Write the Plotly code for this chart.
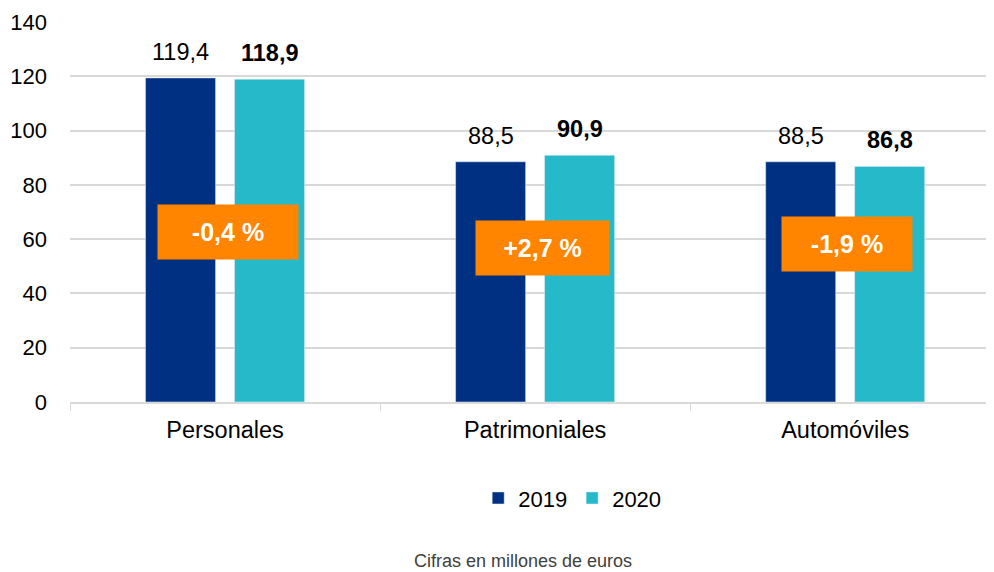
import plotly.graph_objects as go

categorias = ["Personales", "Patrimoniales", "Automóviles"]
v2019 = [119.4, 88.5, 88.5]
v2020 = [118.9, 90.9, 86.8]
variacion = ["-0,4 %", "+2,7 %", "-1,9 %"]
pos_var = [62.6, 56.7, 58.2]   # altura de las cajas naranjas

def fmt(v):
    return f"{v:.1f}".replace(".", ",")

fig = go.Figure()
fig.add_trace(go.Bar(x=categorias, y=v2019, name="2019", marker_color="#003082"))
fig.add_trace(go.Bar(x=categorias, y=v2020, name="2020", marker_color="#25B9C9"))

# etiquetas de valor sobre las barras
for cat, a, b in zip(categorias, v2019, v2020):
    fig.add_annotation(x=cat, y=a, text=fmt(a), showarrow=False, xshift=-44.5,
                       yshift=26, yanchor="middle", font=dict(size=23.5, color="#000000"))
    fig.add_annotation(x=cat, y=b, text="<b>" + fmt(b) + "</b>", showarrow=False, xshift=44.5,
                       yshift=26, yanchor="middle", font=dict(size=23.5, color="#000000"))

# cajas de variación
offsets = [0.011, 0.023, 0.005]
anchos = [132, 125, 122]
for i, (t, yv) in enumerate(zip(variacion, pos_var)):
    fig.add_annotation(
        x=i + offsets[i], y=yv, xref="x", yref="y", text="<b>" + t + "</b>",
        showarrow=False, font=dict(size=25, color="white"),
        bgcolor="#FF8400", width=anchos[i], height=46, borderpad=4,
    )

fig.add_annotation(
    x=0.49, y=-0.418, xref="paper", yref="paper", text="Cifras en millones de euros",
    showarrow=False, font=dict(size=18, color="#404040"), yanchor="middle",
)

# la página tiene 8 px de margen en el body: la figura se reduce en consecuencia
fig.update_layout(
    width=986, height=564,
    margin=dict(l=62, r=0, t=14, b=170, autoexpand=False),
    plot_bgcolor="white", paper_bgcolor="white",
    font=dict(family="Liberation Sans, Arial, sans-serif", size=22, color="#000000"),
    barmode="group", bargap=0.426, bargroupgap=0.213,
    showlegend=True,
    legend=dict(orientation="h", x=0.5435, xanchor="center", y=-0.253, yanchor="middle",
                font=dict(size=22), itemwidth=30, traceorder="normal"),
)
fig.update_xaxes(
    range=[-0.5, 2.48], showline=True, linecolor="#d9d9d9", linewidth=1.5,
    ticks="outside", tickson="boundaries", ticklen=7, tickcolor="#d9d9d9",
    tickfont=dict(size=23.5), ticklabelstandoff=6,
)
fig.update_yaxes(
    range=[0, 140], dtick=20, showgrid=True, gridcolor="#d9d9d9", gridwidth=1.5,
    zeroline=False, tickfont=dict(size=22), ticklabelstandoff=22,
)

fig.write_html("out.html")
